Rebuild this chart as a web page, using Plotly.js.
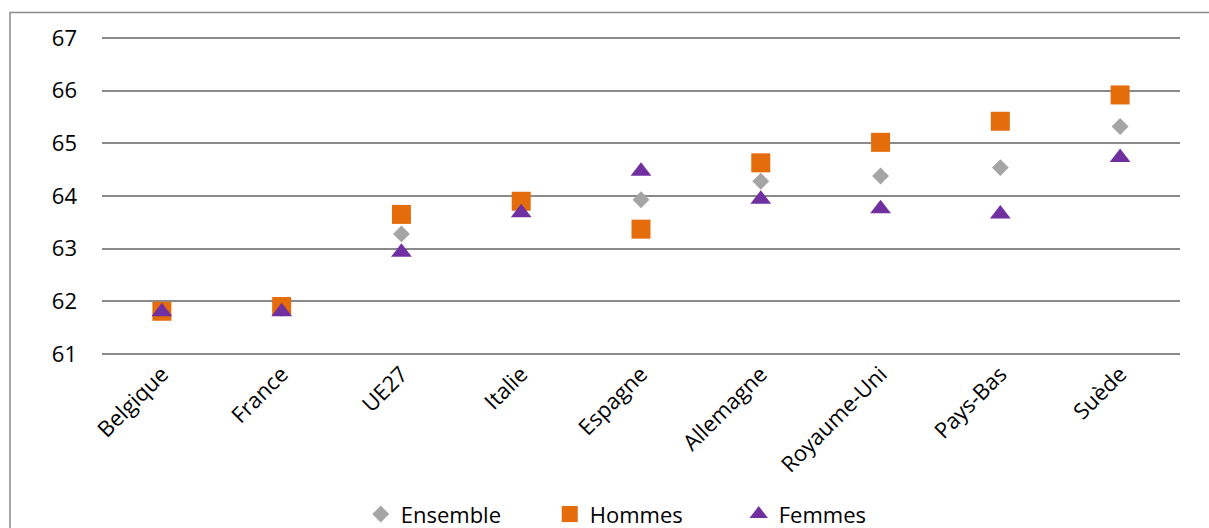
<!DOCTYPE html>
<html>
<head>
<meta charset="utf-8">
<script src="https://cdn.plot.ly/plotly-3.0.1.min.js"></script>
<style>
html,body{margin:0;padding:0;background:#fff;}
#chart{width:1209px;height:528px;}
</style>
</head>
<body>
<div id="chart"></div>
<script>
const categories = ["Belgique", "France", "UE27", "Italie", "Espagne", "Allemagne", "Royaume-Uni", "Pays-Bas", "Suède"];
const ensemble = [61.80, 61.86, 63.28, 63.80, 63.93, 64.28, 64.38, 64.54, 65.32];
const hommes   = [61.81, 61.90, 63.65, 63.90, 63.37, 64.63, 65.02, 65.42, 65.92];
const femmes   = [61.80, 61.80, 62.93, 63.68, 64.47, 63.94, 63.76, 63.66, 64.73];
const yTicks = [61, 62, 63, 64, 65, 66, 67];

const FONT = "'Open Sans', sans-serif";

const traces = [
  {x: categories, y: ensemble, name: "Ensemble", type: "scatter", mode: "markers",
   marker: {symbol: "diamond", size: 13, color: "#A5A5A5", line: {width: 0}}},
  {x: categories, y: hommes, name: "Hommes", type: "scatter", mode: "markers",
   marker: {symbol: "square", size: 19, color: "#E46C0A", line: {width: 0}}},
  {x: categories, y: femmes, name: "Femmes", type: "scatter", mode: "markers",
   marker: {symbol: "triangle-up", size: 18, color: "#7030A0", line: {width: 0}}}
];

const layout = {
  width: 1209, height: 528,
  margin: {l: 102, r: 29, t: 35.9, b: 172.4},
  paper_bgcolor: "#fff", plot_bgcolor: "#fff",
  font: {family: FONT, size: 22, color: "#000"},
  showlegend: true,
  legend: {
    orientation: "h", x: 0.503, xanchor: "center",
    yref: "container", y: 0.026, yanchor: "middle",
    font: {family: FONT, size: 22, color: "#000"},
    itemwidth: 30, entrywidth: 144, traceorder: "normal"
  },
  xaxis: {
    type: "category", range: [-0.5, 8.5], tickangle: -45,
    showgrid: false, zeroline: false, showline: false, ticks: "",
    tickfont: {family: FONT, size: 22, color: "#000"}, fixedrange: true
  },
  yaxis: {
    range: [60.96, 67.04], tickvals: yTicks, ticktext: yTicks.map(String),
    showgrid: true, gridcolor: "#8a8a8a", gridwidth: 2,
    zeroline: false, showline: false, ticks: "",
    ticklabelstandoff: 24,
    tickfont: {family: FONT, size: 22, color: "#000"}, fixedrange: true
  },
  shapes: [{
    type: "rect", xref: "paper", yref: "paper",
    x0: (10 - 102) / 1078, x1: (1215 - 102) / 1078,
    y0: (355.6 - 540) / 319.7, y1: (355.6 - 12.5) / 319.7,
    line: {color: "#8a8a8a", width: 1.5}, fillcolor: "rgba(0,0,0,0)", layer: "below"
  }]
};

Plotly.newPlot("chart", traces, layout, {displayModeBar: false, staticPlot: true});
</script>
</body>
</html>
